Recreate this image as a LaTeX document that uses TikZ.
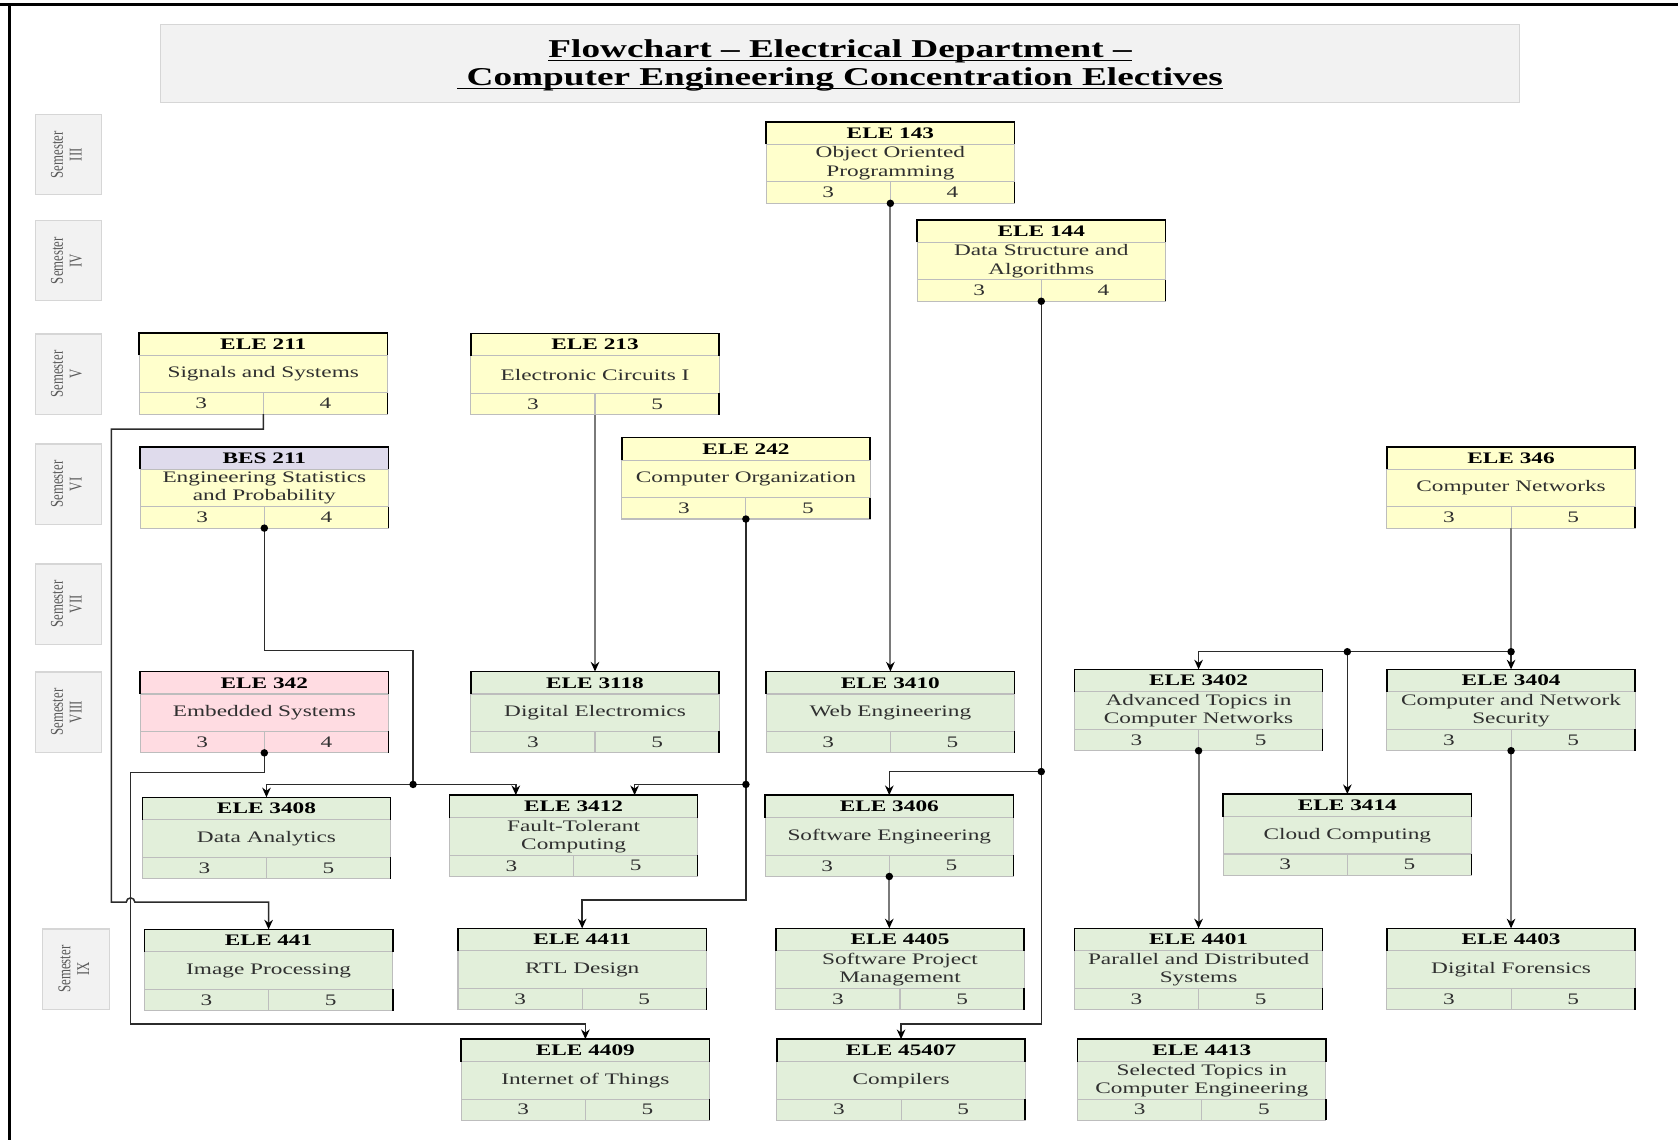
\documentclass[tikz,border=0pt]{standalone}
\usepackage{fontspec}
\setmainfont{Liberation Serif}[FakeStretch=1.45]
\newfontfamily\semfont{Liberation Serif}
\usepackage{graphicx}
\usetikzlibrary{arrows.meta, calc}

\definecolor{cyellow}{HTML}{FFFFCC}
\definecolor{cgreen}{HTML}{E2EFDA}
\definecolor{cpink}{HTML}{FFDCE2}
\definecolor{clavender}{HTML}{DFDBEC}
\definecolor{cellgray}{HTML}{BDBDBD}
\definecolor{panelgray}{HTML}{F2F2F2}
\definecolor{panelline}{HTML}{D6D6D6}
\definecolor{textgray}{HTML}{303030}
\definecolor{semgray}{HTML}{5A5A5A}
\definecolor{wiredark}{HTML}{2B2B2B}
\definecolor{wirelight}{HTML}{7A7A7A}

\tikzstyle{course} = [rectangle, inner sep=0pt, outer sep=0pt, minimum width=232pt, minimum height=76pt]
\tikzstyle{cellline} = [draw=cellgray, line width=1pt]
\tikzstyle{edgeline} = [draw=black, line width=1.4pt]
\tikzstyle{codetext} = [font=\fontsize{15}{17}\selectfont\bfseries, inner sep=0pt]
\tikzstyle{titletext} = [font=\fontsize{15}{17}\selectfont, text=textgray, align=center, inner sep=0pt]
\tikzstyle{credtext} = [font=\fontsize{15}{17}\selectfont, text=textgray, inner sep=0pt]
\tikzstyle{semester} = [rectangle, draw=panelline, fill=panelgray, line width=1.2pt, minimum width=62pt, minimum height=75pt, inner sep=0pt, text=semgray, font=\semfont\fontsize{12}{12.5}\selectfont]
\tikzstyle{wire} = [draw=wiredark, line width=1.4pt]
\tikzstyle{wiregray} = [draw=wirelight, line width=1.8pt]
\tikzstyle{arrow} = [-{Stealth[length=9pt, width=8pt, color=black]}]
\tikzstyle{joint} = [circle, fill=black, inner sep=0pt, minimum size=7pt]

% #1 name, #2 centre, #3 body fill, #4 header fill, #5 code, #6 title, #7 #8 credits
\newcommand{\course}[8]{%
  \node[course, fill=#3] (#1) at (#2) {};
  \fill[#4] (#1.north west) rectangle ([yshift=-21pt]#1.north east);
  \draw[cellline] (#1.north west) rectangle (#1.south east);
  \draw[cellline] ([yshift=-21pt]#1.north west) -- ([yshift=-21pt]#1.north east);
  \draw[cellline] ([yshift=20pt]#1.south west) -- ([yshift=20pt]#1.south east);
  \draw[cellline] (#1.south) -- ([yshift=20pt]#1.south);
  \draw[edgeline] ([yshift=-21pt]#1.north west) -- (#1.north west) -- (#1.north east) -- ([yshift=-21pt]#1.north east);
  \draw[edgeline] (#1.south east) -- ([yshift=20pt]#1.south east);
  \node[codetext] at ([yshift=-10.5pt]#1.north) {#5};
  \node[titletext] at ([yshift=-0.5pt]#1.center) {#6};
  \node[credtext] at ($(#1.south west)!0.25!(#1.south east)+(0,-10)$) {#7};
  \node[credtext] at ($(#1.south west)!0.75!(#1.south east)+(0,-10)$) {#8};
}
\newcommand{\semlabel}[1]{\rotatebox{90}{\scalebox{1}[1.4]{\begin{tabular}{@{}c@{}}Semester\\#1\end{tabular}}}}
\newsavebox{\ulbox}
\newcommand{\ulined}[1]{\sbox{\ulbox}{#1}\rlap{\rule[-3pt]{\wd\ulbox}{1.4pt}}\usebox{\ulbox}}

\begin{document}
\begin{tikzpicture}[x=1pt, y=-1pt]
\useasboundingbox (0,0) rectangle (1568,1065);

% page frame
\draw[line width=3pt] (0,4) -- (1568,4);
\draw[line width=3pt] (9,4) -- (9,1065);

% heading
\node (title) [rectangle, draw=panelline, fill=panelgray, line width=1.2pt, minimum width=1270pt, minimum height=73pt] at (785,59.5) {};
\node [align=center, font=\fontsize{24}{26}\selectfont\bfseries] at (785,61.5)
  {\ulined{Flowchart – Electrical Department –}\\\ulined{\ Computer Engineering Concentration Electives}};

% semesters
\node (sem3) [semester] at (64,144.5) {\semlabel{III}};
\node (sem4) [semester] at (64,243.5) {\semlabel{IV}};
\node (sem5) [semester] at (64,349.5) {\semlabel{V}};
\node (sem6) [semester] at (64,452.5) {\semlabel{VI}};
\node (sem7) [semester] at (64,564.5) {\semlabel{VII}};
\node (sem8) [semester] at (64,665.5) {\semlabel{VIII}};
\node (sem9) [semester] at (71,905.5) {\semlabel{IX}};

% courses
\course{ele143}{832,152}{cyellow}{cyellow}{ELE 143}{Object Oriented\\Programming}{3}{4}
\course{ele144}{973,243.5}{cyellow}{cyellow}{ELE 144}{Data Structure and\\Algorithms}{3}{4}
\course{ele211}{246,349}{cyellow}{cyellow}{ELE 211}{Signals and Systems}{3}{4}
\course{ele213}{556,349.5}{cyellow}{cyellow}{ELE 213}{Electronic Circuits I}{3}{5}
\course{bes211}{247,455.5}{cyellow}{clavender}{BES 211}{Engineering Statistics\\and Probability}{3}{4}
\course{ele242}{697,447}{cyellow}{cyellow}{ELE 242}{Computer Organization}{3}{5}
\course{ele346}{1412,455.5}{cyellow}{cyellow}{ELE 346}{Computer Networks}{3}{5}
\course{ele342}{247,665.5}{cpink}{cpink}{ELE 342}{Embedded Systems}{3}{4}
\course{ele3118}{556,665.5}{cgreen}{cgreen}{ELE 3118}{Digital Electromics}{3}{5}
\course{ele3410}{832,665.5}{cgreen}{cgreen}{ELE 3410}{Web Engineering}{3}{5}
\course{ele3402}{1120,663.5}{cgreen}{cgreen}{ELE 3402}{Advanced Topics in\\Computer Networks}{3}{5}
\course{ele3404}{1412,663.5}{cgreen}{cgreen}{ELE 3404}{Computer and Network\\Security}{3}{5}
\course{ele3408}{249,783}{cgreen}{cgreen}{ELE 3408}{Data Analytics}{3}{5}
\course{ele3412}{536,781}{cgreen}{cgreen}{ELE 3412}{Fault-Tolerant\\Computing}{3}{5}
\course{ele3406}{831,781}{cgreen}{cgreen}{ELE 3406}{Software Engineering}{3}{5}
\course{ele3414}{1259,780}{cgreen}{cgreen}{ELE 3414}{Cloud Computing}{3}{5}
\course{ele441}{251,906.5}{cgreen}{cgreen}{ELE 441}{Image Processing}{3}{5}
\course{ele4411}{544,905.5}{cgreen}{cgreen}{ELE 4411}{RTL Design}{3}{5}
\course{ele4405}{841,905.5}{cgreen}{cgreen}{ELE 4405}{Software Project\\Management}{3}{5}
\course{ele4401}{1120,905.5}{cgreen}{cgreen}{ELE 4401}{Parallel and Distributed\\Systems}{3}{5}
\course{ele4403}{1412,905.5}{cgreen}{cgreen}{ELE 4403}{Digital Forensics}{3}{5}
\course{ele4409}{547,1009}{cgreen}{cgreen}{ELE 4409}{Internet of Things}{3}{5}
\course{ele45407}{842,1009}{cgreen}{cgreen}{ELE 45407}{Compilers}{3}{5}
\course{ele4413}{1123,1009}{cgreen}{cgreen}{ELE 4413}{Selected Topics in\\Computer Engineering}{3}{5}

% bends and junctions
\coordinate (j144) at (973,721);
\coordinate (b144) at (973,957);
\coordinate (k211a) at (104,401);
\coordinate (k211b) at (104,843);
\coordinate (hop) at (118,843);
\coordinate (kbes) at (386,608);
\coordinate (jbes) at (386,733);
\coordinate (j242) at (697,733);
\coordinate (k242) at (697,841);
\coordinate (j346) at (1412,609);
\coordinate (j3414) at (1259,609);
\coordinate (k342a) at (122,722);
\coordinate (k342b) at (122,957);

% prerequisites
\draw [wiregray, arrow] (ele143.south) -- (ele3410.north);
\draw [wire] (ele144.south) -- (j144);
\draw [wire, arrow] (j144) -| (ele3406.north);
\draw [wire, arrow] (j144) -- (b144) -| (ele45407.north);
\draw [wiregray, arrow] (ele213.south) -- (ele3118.north);
\draw [wire] (bes211.south) |- (kbes) -- (jbes);
\draw [wire, arrow] (jbes) -| (ele3408.north);
\draw [wire, arrow] (jbes) -| ([xshift=-54pt]ele3412.north);
\draw [wire] (ele242.south) -- (j242);
\draw [wire, arrow] (j242) -| ([xshift=57pt]ele3412.north);
\draw [wire, arrow] (j242) -- (k242) -| (ele4411.north);
\draw [wire, arrow] (ele342.south) |- (k342a) -- (k342b) -| (ele4409.north);
\draw [wire, arrow] (ele211.south) |- (k211a) -- (k211b) -- (hop) arc[start angle=180, end angle=0, radius=4pt] -| (ele441.north);
\draw [wiregray] (ele346.south) -- (j346);
\draw [wire, arrow] (j346) -- (ele3404.north);
\draw [wire, arrow] (j346) -| (ele3402.north);
\draw [wire, arrow] (j3414) -- (ele3414.north);
\draw [wiregray, arrow] (ele3402.south) -- (ele4401.north);
\draw [wiregray, arrow] (ele3404.south) -- (ele4403.north);
\draw [wiregray, arrow] (ele3406.south) -- (ele3406.south |- ele4405.north);

% dots
\foreach \p in {ele143.south, ele144.south, bes211.south, ele242.south, ele342.south, ele3402.south, ele3404.south, ele3406.south, j144, jbes, j242, j346, j3414}
  \node [joint] at (\p) {};

\end{tikzpicture}
\end{document}
